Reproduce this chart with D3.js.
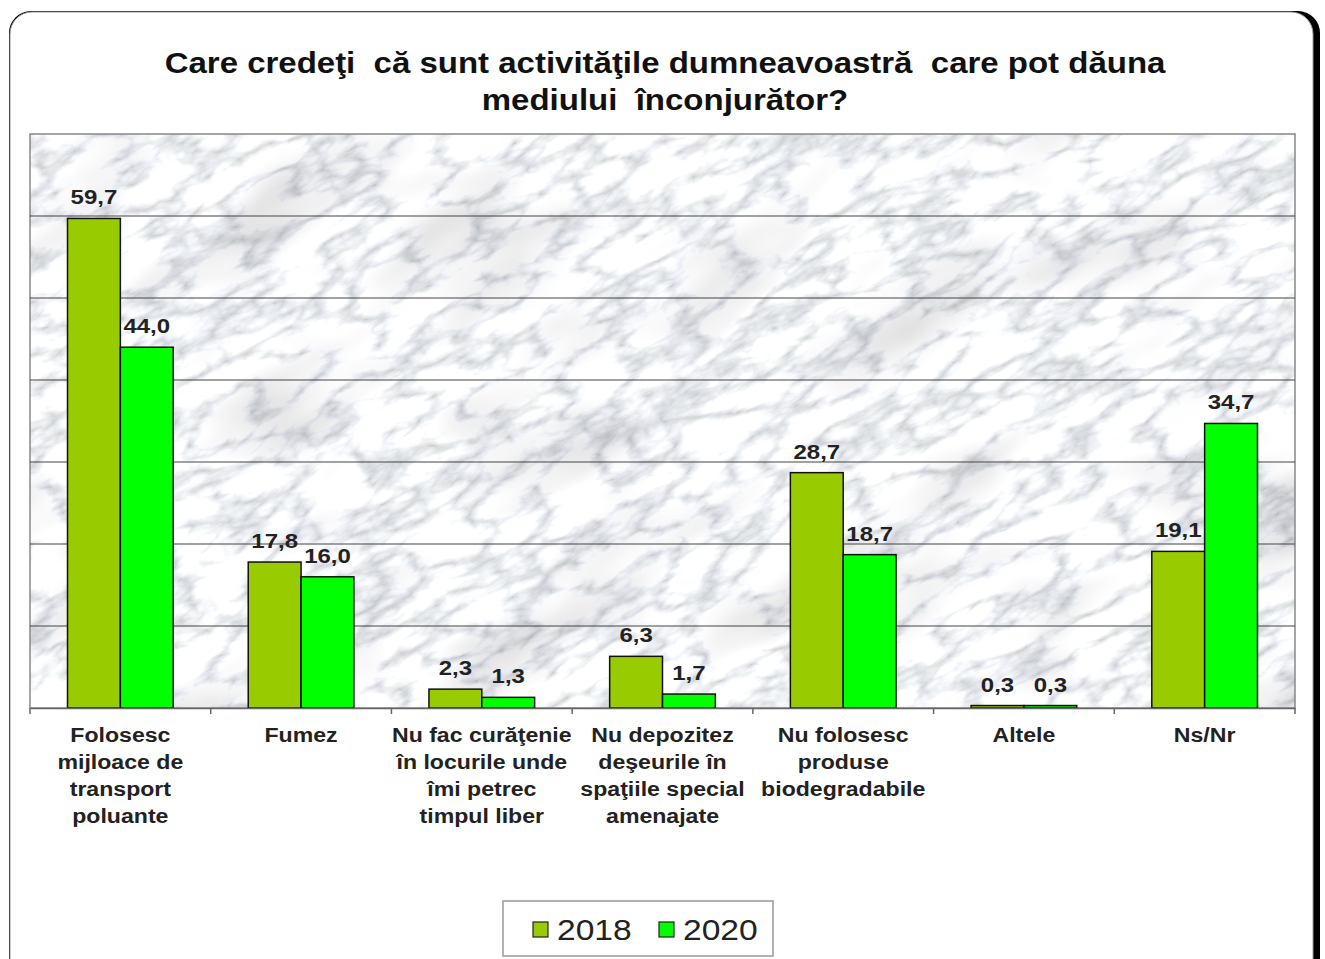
<!DOCTYPE html>
<html lang="ro">
<head>
<meta charset="utf-8">
<title>Care credeţi că sunt activităţile dumneavoastră care pot dăuna mediului înconjurător?</title>
<style>
  body { margin: 0; background: #fff; }
  text { font-family: "Liberation Sans", Arial, sans-serif; }
</style>
</head>
<body>
<script src="https://cdn.jsdelivr.net/npm/d3@7"></script>
<script>
var categories = [
  ["Folosesc", "mijloace de", "transport", "poluante"],
  ["Fumez"],
  ["Nu fac curăţenie", "în locurile unde", "îmi petrec", "timpul liber"],
  ["Nu depozitez", "deşeurile în", "spaţiile special", "amenajate"],
  ["Nu folosesc", "produse", "biodegradabile"],
  ["Altele"],
  ["Ns/Nr"]
];
var years = ["2018", "2020"];
var values2018 = [59.7, 17.8, 2.3, 6.3, 28.7, 0.3, 19.1];
var values2020 = [44.0, 16.0, 1.3, 1.7, 18.7, 0.3, 34.7];
var yTicks = [0, 10, 20, 30, 40, 50, 60, 70];
var colors = ["#99cc00", "#00ff00"];
var titleLines = ["Care credeţi  că sunt activităţile dumneavoastră  care pot dăuna",
                  "mediului  înconjurător?"];

var W = 1325, H = 959;
var plot = {left: 30, right: 1295, top: 134, bottom: 708};

var svg = d3.select("body").append("svg")
    .attr("width", W).attr("height", H);

// text drawn a bit wider than the font, like the stretched original
function wideText(parent, cx, cy, sx) {
  return parent.append("text")
    .attr("transform", "translate(" + cx + "," + cy + ") scale(" + sx + ",1)")
    .attr("x", 0).attr("y", 0);
}

var defs = svg.append("defs");
var f = defs.append("filter").attr("id", "marble")
    .attr("x", 0).attr("y", 0).attr("width", 1).attr("height", 1);
// thin veins
f.append("feTurbulence").attr("type", "turbulence")
    .attr("baseFrequency", "0.014 0.035").attr("numOctaves", 4).attr("seed", 3)
    .attr("result", "t1");
f.append("feColorMatrix").attr("in", "t1").attr("type", "matrix")
    .attr("values", "1.2 0 0 0 0.58  1.2 0 0 0 0.6  1.2 0 0 0 0.63  0 0 0 0 1")
    .attr("result", "veins");
// soft cloudy shading
f.append("feTurbulence").attr("type", "fractalNoise")
    .attr("baseFrequency", "0.005 0.012").attr("numOctaves", 3).attr("seed", 11)
    .attr("result", "t2");
f.append("feColorMatrix").attr("in", "t2").attr("type", "matrix")
    .attr("values", "0.7 0 0 0 0.65  0.7 0 0 0 0.65  0.7 0 0 0 0.66  0 0 0 0 1")
    .attr("result", "clouds");
f.append("feComposite").attr("in", "veins").attr("in2", "clouds")
    .attr("operator", "arithmetic").attr("k1", 1).attr("k2", 0).attr("k3", 0).attr("k4", 0);
defs.append("clipPath").attr("id", "plotclip").append("rect")
    .attr("x", plot.left).attr("y", plot.top)
    .attr("width", plot.right - plot.left).attr("height", plot.bottom - plot.top);

// card
svg.append("rect").attr("x", 9).attr("y", 11).attr("width", 1311).attr("height", 990)
    .attr("rx", 22).attr("fill", "#000");
svg.append("rect").attr("x", 10).attr("y", 12).attr("width", 1303).attr("height", 990)
    .attr("rx", 22).attr("fill", "#fff").attr("stroke", "#999").attr("stroke-width", 1);

// title
titleLines.forEach(function(l, j) {
  wideText(svg, 665, 73 + j * 37, 1.1)
    .attr("text-anchor", "middle").attr("font-size", 30).attr("font-weight", "bold")
    .attr("fill", "#111").style("white-space", "pre").text(l);
});

var x = d3.scaleBand().domain(d3.range(categories.length))
    .range([plot.left, plot.right]);
var x1 = d3.scaleBand().domain(years)
    .range([0, x.bandwidth()]).paddingOuter(0.71).paddingInner(0);
var y = d3.scaleLinear().domain([0, 70]).range([plot.bottom, plot.top]);

// plot background (marble)
var pw = plot.right - plot.left, ph = plot.bottom - plot.top;
var cxp = (plot.left + plot.right) / 2, cyp = (plot.top + plot.bottom) / 2;
svg.append("g").attr("clip-path", "url(#plotclip)")
  .append("g").attr("transform", "translate(" + cxp + "," + cyp + ") rotate(-28)")
  .append("rect").attr("x", -800).attr("y", -700).attr("width", 1600).attr("height", 1400)
    .attr("filter", "url(#marble)");
svg.append("rect").attr("x", plot.left).attr("y", plot.top)
    .attr("width", pw).attr("height", ph)
    .attr("fill", "none").attr("stroke", "#888").attr("stroke-width", 1.5);

// gridlines
svg.append("g").selectAll("line").data(yTicks.slice(1, -1)).enter().append("line")
    .attr("x1", plot.left).attr("x2", plot.right)
    .attr("y1", function(d) { return y(d); }).attr("y2", function(d) { return y(d); })
    .attr("stroke", "#444").attr("stroke-width", 1.2);

// bars
var fmt = function(v) { return d3.format(".1f")(v).replace(".", ","); };
var rows = categories.map(function(c, i) {
  return {i: i, vals: [values2018[i], values2020[i]]};
});
var groups = svg.append("g").selectAll("g").data(rows).enter().append("g")
    .attr("transform", function(d) { return "translate(" + x(d.i) + ",0)"; });
groups.selectAll("rect").data(function(d) {
  return d.vals.map(function(v, k) { return {year: years[k], v: v, k: k}; });
}).enter().append("rect")
    .attr("x", function(d) { return x1(d.year); })
    .attr("width", x1.bandwidth())
    .attr("y", function(d) { return y(d.v); })
    .attr("height", function(d) { return y(0) - y(d.v); })
    .attr("fill", function(d) { return colors[d.k]; })
    .attr("stroke", "#111").attr("stroke-width", 1.5);
groups.each(function(d) {
  var g = d3.select(this);
  d.vals.forEach(function(v, k) {
    wideText(g, x1(years[k]) + x1.bandwidth() / 2, y(v) - 14, 1.2)
      .attr("text-anchor", "middle").attr("font-size", 20).attr("font-weight", "bold")
      .attr("fill", "#222").text(fmt(v));
  });
});

// x axis
var ax = svg.append("g").attr("transform", "translate(0," + plot.bottom + ")")
    .call(d3.axisBottom(x).tickSize(0).tickFormat(""));
ax.select(".domain").attr("stroke", "#666").attr("stroke-width", 1.5);
svg.append("g").selectAll("line").data(d3.range(categories.length + 1)).enter().append("line")
    .attr("x1", function(d) { return plot.left + d * x.step(); })
    .attr("x2", function(d) { return plot.left + d * x.step(); })
    .attr("y1", plot.bottom).attr("y2", plot.bottom + 6)
    .attr("stroke", "#666").attr("stroke-width", 1.5);

var lab = svg.append("g");
categories.forEach(function(lines, i) {
  lines.forEach(function(l, j) {
    wideText(lab, x(i) + x.bandwidth() / 2, 742 + j * 27, 1.1)
      .attr("text-anchor", "middle").attr("font-size", 21).attr("font-weight", "bold")
      .attr("fill", "#222").text(l);
  });
});

// legend
var lg = svg.append("g");
lg.append("rect").attr("x", 503).attr("y", 901).attr("width", 270).attr("height", 55)
    .attr("fill", "#fff").attr("stroke", "#999").attr("stroke-width", 1.5);
var lx = [533, 659];
years.forEach(function(yr, k) {
  lg.append("rect").attr("x", lx[k]).attr("y", 922).attr("width", 15).attr("height", 15)
    .attr("fill", colors[k]).attr("stroke", "#222").attr("stroke-width", 1.2);
  wideText(lg, lx[k] + 24, 940, 1.12)
    .attr("font-size", 30).attr("fill", "#222").text(yr);
});
</script>
</body>
</html>
